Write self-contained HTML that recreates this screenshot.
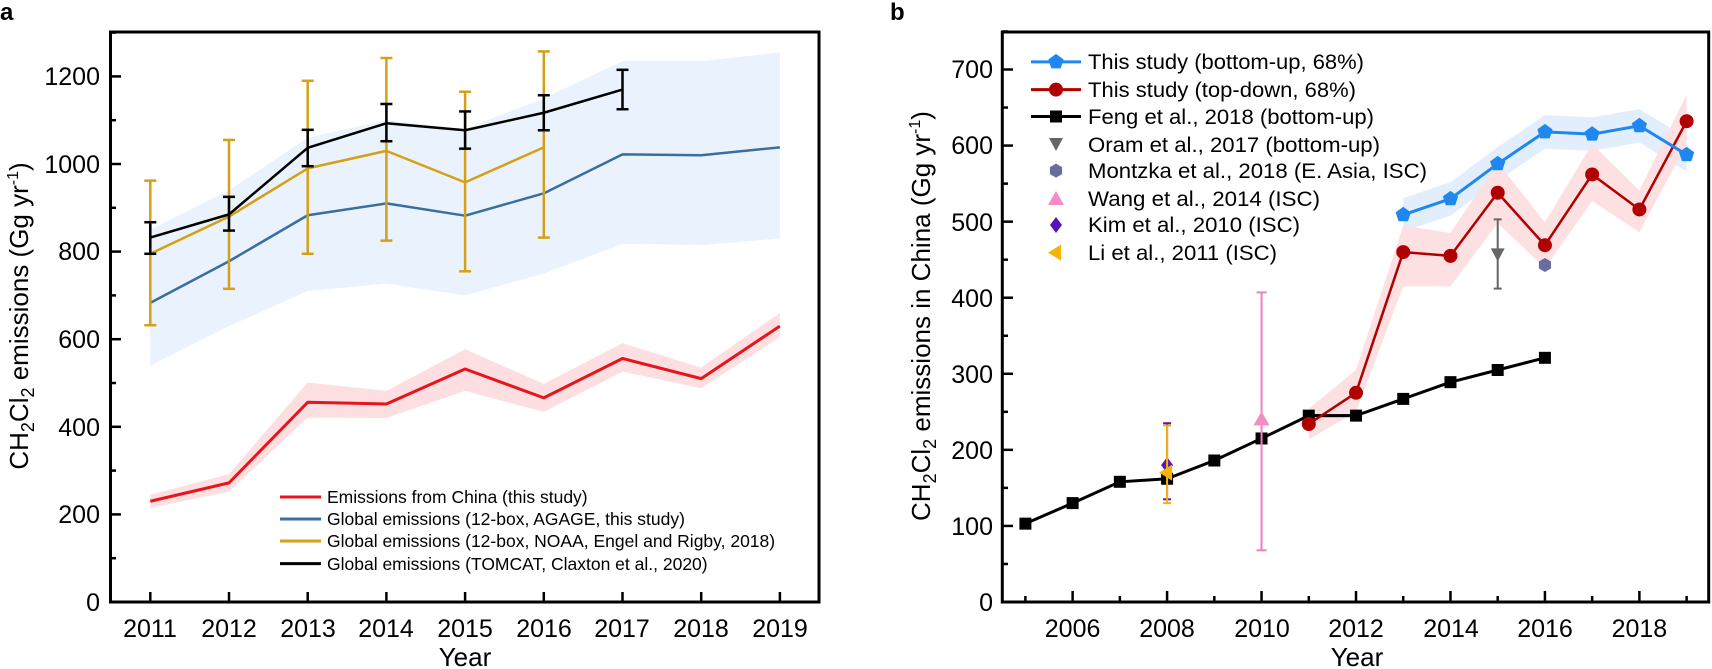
<!DOCTYPE html>
<html><head><meta charset="utf-8"><style>
html,body{margin:0;padding:0;background:#fff;}
svg{display:block;font-family:"Liberation Sans",Arial,sans-serif;}
</style></head><body>
<svg id="s" width="1712" height="669" viewBox="0 0 1712 669" xmlns="http://www.w3.org/2000/svg">
<g id="g"></g>
<!-- panel labels -->
<text x="0" y="20" font-size="24" font-weight="bold">a</text>
<text x="890" y="20" font-size="24" font-weight="bold">b</text>
<!-- panel a tick labels -->
<g font-size="25" text-anchor="end">
<text x="100" y="611">0</text><text x="100" y="523">200</text><text x="100" y="436">400</text>
<text x="100" y="348">600</text><text x="100" y="260">800</text><text x="100" y="173">1000</text><text x="100" y="85">1200</text>
</g>
<g font-size="25" text-anchor="middle">
<text x="150" y="637">2011</text><text x="229" y="637">2012</text><text x="308" y="637">2013</text>
<text x="386" y="637">2014</text><text x="465" y="637">2015</text><text x="544" y="637">2016</text>
<text x="622" y="637">2017</text><text x="701" y="637">2018</text><text x="780" y="637">2019</text>
<text x="465" y="666" font-size="26">Year</text>
</g>
<text transform="translate(28,316) rotate(-90)" font-size="26" text-anchor="middle">CH<tspan font-size="18" dy="6">2</tspan><tspan dy="-6">Cl</tspan><tspan font-size="18" dy="6">2</tspan><tspan dy="-6"> emissions  (Gg yr</tspan><tspan font-size="16" dy="-10">-1</tspan><tspan dy="10">)</tspan></text>
<g font-size="17.5">
<text x="327" y="503">Emissions from China (this study)</text>
<text x="327" y="525">Global emissions (12-box, AGAGE, this study)</text>
<text x="327" y="547">Global emissions (12-box, NOAA, Engel and Rigby, 2018)</text>
<text x="327" y="570">Global emissions (TOMCAT, Claxton et al., 2020)</text>
</g>
<!-- panel b tick labels -->
<g font-size="25" text-anchor="end">
<text x="993" y="611">0</text><text x="993" y="535">100</text><text x="993" y="459">200</text><text x="993" y="383">300</text>
<text x="993" y="307">400</text><text x="993" y="231">500</text><text x="993" y="154">600</text><text x="993" y="78">700</text>
</g>
<g font-size="25" text-anchor="middle">
<text x="1072.6" y="637">2006</text><text x="1167" y="637">2008</text><text x="1262" y="637">2010</text>
<text x="1356" y="637">2012</text><text x="1451" y="637">2014</text><text x="1545" y="637">2016</text><text x="1639.4" y="637">2018</text>
<text x="1357" y="666" font-size="26">Year</text>
</g>
<text transform="translate(930,316) rotate(-90)" font-size="26" text-anchor="middle">CH<tspan font-size="18" dy="6">2</tspan><tspan dy="-6">Cl</tspan><tspan font-size="18" dy="6">2</tspan><tspan dy="-6"> emissions in China (Gg yr</tspan><tspan font-size="16" dy="-10">-1</tspan><tspan dy="10">)</tspan></text>
<g font-size="21">
<text x="1088" y="69" textLength="276" lengthAdjust="spacingAndGlyphs">This study (bottom-up, 68%)</text>
<text x="1088" y="97" textLength="268" lengthAdjust="spacingAndGlyphs">This study (top-down, 68%)</text>
<text x="1088" y="124" textLength="286" lengthAdjust="spacingAndGlyphs">Feng et al., 2018 (bottom-up)</text>
<text x="1088" y="152" textLength="292" lengthAdjust="spacingAndGlyphs">Oram et al., 2017 (bottom-up)</text>
<text x="1088" y="178" textLength="339" lengthAdjust="spacingAndGlyphs">Montzka et al., 2018 (E. Asia, ISC)</text>
<text x="1088" y="206" textLength="232" lengthAdjust="spacingAndGlyphs">Wang et al., 2014 (ISC)</text>
<text x="1088" y="232" textLength="212" lengthAdjust="spacingAndGlyphs">Kim et al., 2010 (ISC)</text>
<text x="1088" y="260" textLength="189" lengthAdjust="spacingAndGlyphs">Li et al., 2011 (ISC)</text>
</g>
</svg>
<script>
const g=document.getElementById('g');let h='';
const ax=y=>150.3+(y-2011)*78.7, ay=v=>602-v*0.438;
const bx=y=>1025.4+(y-2005)*47.23, by=v=>602-v*0.7607;
function pl(pts,c,w){h+=`<polyline points="${pts.map(p=>p.join(',')).join(' ')}" fill="none" stroke="${c}" stroke-width="${w}" stroke-linejoin="round"/>`;}
function band(xs,lo,hi,fx,fy,c){let p=xs.map((x,i)=>fx(x)+','+fy(hi[i])).concat(xs.map((x,i)=>fx(x)+','+fy(lo[i])).reverse());h+=`<polygon points="${p.join(' ')}" fill="${c}"/>`;}
function eb(x,lo,hi,c,w,cap){h+=`<line x1="${x}" x2="${x}" y1="${lo}" y2="${hi}" stroke="${c}" stroke-width="${w}"/><line x1="${x-cap}" x2="${x+cap}" y1="${lo}" y2="${lo}" stroke="${c}" stroke-width="${w}"/><line x1="${x-cap}" x2="${x+cap}" y1="${hi}" y2="${hi}" stroke="${c}" stroke-width="${w}"/>`;}
// Panel a
let yrs=[2011,2012,2013,2014,2015,2016,2017,2018,2019];
band(yrs,[540,630,710,727,700,750,818,815,830],[850,940,1060,1100,1080,1150,1235,1235,1255],ax,ay,'#eaf3fd');
let red=[230,272,456,452,532,466,556,510,630];
band(yrs,red.map((v,i)=>v-[15,20,35,32,50,32,30,22,25][i]),red.map((v,i)=>v+[15,20,45,30,45,32,35,25,30][i]),ax,ay,'#fddfe2');
pl(yrs.map((y,i)=>[ax(y),ay(red[i])]),'#e8141b',3);
let blue=[683,778,883,910,882,933,1022,1020,1038];
pl(yrs.map((y,i)=>[ax(y),ay(blue[i])]),'#3a6e9f',2.5);
let gy=[795,880,990,1030,958,1038],ge=[[632,962],[715,1055],[795,1190],[825,1242],[755,1165],[832,1257]];
pl(gy.map((v,i)=>[ax(2011+i),ay(v)]),'#d4a017',2.5);
ge.forEach((e,i)=>eb(ax(2011+i),ay(e[0]),ay(e[1]),'#d4a017',2.5,6));
let ky=[832,885,1037,1093,1077,1117,1170],ke=[[795,867],[848,925],[995,1078],[1052,1137],[1035,1120],[1077,1157],[1125,1215]];
pl(ky.map((v,i)=>[ax(2011+i),ay(v)]),'#000',2.5);
ke.forEach((e,i)=>eb(ax(2011+i),ay(e[0]),ay(e[1]),'#000',2.5,6));
// legend a lines
[['#e8141b',497],['#3a6e9f',519],['#d4a017',541],['#000',563.6]].forEach(l=>h+=`<line x1="280" x2="321" y1="${l[1]}" y2="${l[1]}" stroke="${l[0]}" stroke-width="3"/>`);
// axes a
h+=`<rect x="110.5" y="32" width="708.5" height="570" fill="none" stroke="#000" stroke-width="3"/>`;
yrs.forEach(y=>h+=`<line x1="${ax(y)}" x2="${ax(y)}" y1="602" y2="592" stroke="#000" stroke-width="2.5"/>`);
for(let v=0;v<=1300;v+=100){h+=`<line x1="110.5" x2="${v%200?116:121}" y1="${ay(v)}" y2="${ay(v)}" stroke="#000" stroke-width="2.5"/>`;}
// Panel b
let byrs=[2013,2014,2015,2016,2017,2018,2019],bb=[509,530,576,618,615,626,588];
band(byrs,bb.map(v=>v-22),bb.map(v=>v+22),bx,by,'#e3eefc');
let ryrs=[2011,2012,2013,2014,2015,2016,2017,2018,2019],rr=[234,275,460,455,538,469,562,516,632];
band(ryrs,rr.map((v,i)=>v-[20,25,45,40,40,30,35,30,30][i]),rr.map((v,i)=>v+[20,30,35,30,40,30,40,25,35][i]),bx,by,'#fde0e2');
let fy=[103,130,158,162,186,215,245,245,267,289,305,321];
h+=`<line x1="${bx(2011)}" x2="${bx(2012)}" y1="${by(245)}" y2="${by(245)}" stroke="#666" stroke-width="3"/>`;
pl(fy.map((v,i)=>[bx(2005+i),by(v)]),'#000',3);
fy.forEach((v,i)=>h+=`<rect x="${bx(2005+i)-6}" y="${by(v)-6}" width="12" height="12" fill="#000"/>`);
pl(rr.map((v,i)=>[bx(2011+i),by(v)]),'#b00000',2.5);
rr.forEach((v,i)=>h+=`<circle cx="${bx(2011+i)}" cy="${by(v)}" r="7" fill="#b00000"/>`);
function pent(cx,cy,r,c){let p=[];for(let k=0;k<5;k++){let a=-Math.PI/2+k*2*Math.PI/5;p.push((cx+r*Math.cos(a))+','+(cy+r*Math.sin(a)));}h+=`<polygon points="${p.join(' ')}" fill="${c}"/>`;}
pl(bb.map((v,i)=>[bx(2013+i),by(v)]),'#1e88f0',3);
bb.forEach((v,i)=>pent(bx(2013+i),by(v),8,'#1e88f0'));
// other points
eb(bx(2015),by(412),by(503),'#666',2,4);
h+=`<polygon points="${bx(2015)-7},${by(457)-6} ${bx(2015)+7},${by(457)-6} ${bx(2015)},${by(457)+7}" fill="#666"/>`;
function hex(cx,cy,r,c){let p=[];for(let k=0;k<6;k++){let a=Math.PI/6+k*Math.PI/3;p.push((cx+r*Math.cos(a))+','+(cy+r*Math.sin(a)));}h+=`<polygon points="${p.join(' ')}" fill="${c}"/>`;}
hex(bx(2016),by(443),7,'#6a6b9e');
eb(bx(2010),by(68),by(407),'#f27fbf',2,5);
h+=`<polygon points="${bx(2010)-8},${by(240)+6} ${bx(2010)+8},${by(240)+6} ${bx(2010)},${by(240)-8}" fill="#f58cc4"/>`;
eb(bx(2008),by(135),by(235),'#5a14b4',2,4);
h+=`<polygon points="${bx(2008)},${by(180)-8} ${bx(2008)+6},${by(180)} ${bx(2008)},${by(180)+8} ${bx(2008)-6},${by(180)}" fill="#5a14b4"/>`;
eb(bx(2008),by(130),by(232),'#f5b400',2,4);
h+=`<polygon points="${bx(2008)-8},${by(170)} ${bx(2008)+5},${by(170)-8} ${bx(2008)+5},${by(170)+8}" fill="#f5b400"/>`;
// legend b
[[61.9,'#1e88f0'],[89.6,'#b00000'],[116.5,'#000']].forEach(l=>h+=`<line x1="1031" x2="1081" y1="${l[0]}" y2="${l[0]}" stroke="${l[1]}" stroke-width="3"/>`);
pent(1056,61.9,8,'#1e88f0');h+=`<circle cx="1056" cy="89.6" r="7" fill="#b00000"/><rect x="1050" y="110.5" width="12" height="12" fill="#000"/>`;
h+=`<polygon points="1049,138 1063,138 1056,151" fill="#666"/>`;hex(1056,170.6,7,'#6a6b9e');
h+=`<polygon points="1048,205 1064,205 1056,191" fill="#f58cc4"/><polygon points="1056,217 1062,225 1056,233 1050,225" fill="#5a14b4"/><polygon points="1048,252.6 1061,244.6 1061,260.6" fill="#f5b400"/>`;
// axes b
h+=`<rect x="1002.3" y="32" width="706.4" height="570" fill="none" stroke="#000" stroke-width="3"/>`;
for(let y=2005;y<=2019;y++)h+=`<line x1="${bx(y)}" x2="${bx(y)}" y1="602" y2="${y%2?596:591}" stroke="#000" stroke-width="2.5"/>`;
for(let v=0;v<=750;v+=50)h+=`<line x1="1002.3" x2="${v%100?1008:1013}" y1="${by(v)}" y2="${by(v)}" stroke="#000" stroke-width="2.5"/>`;
g.innerHTML=h;
</script>
</body></html>
